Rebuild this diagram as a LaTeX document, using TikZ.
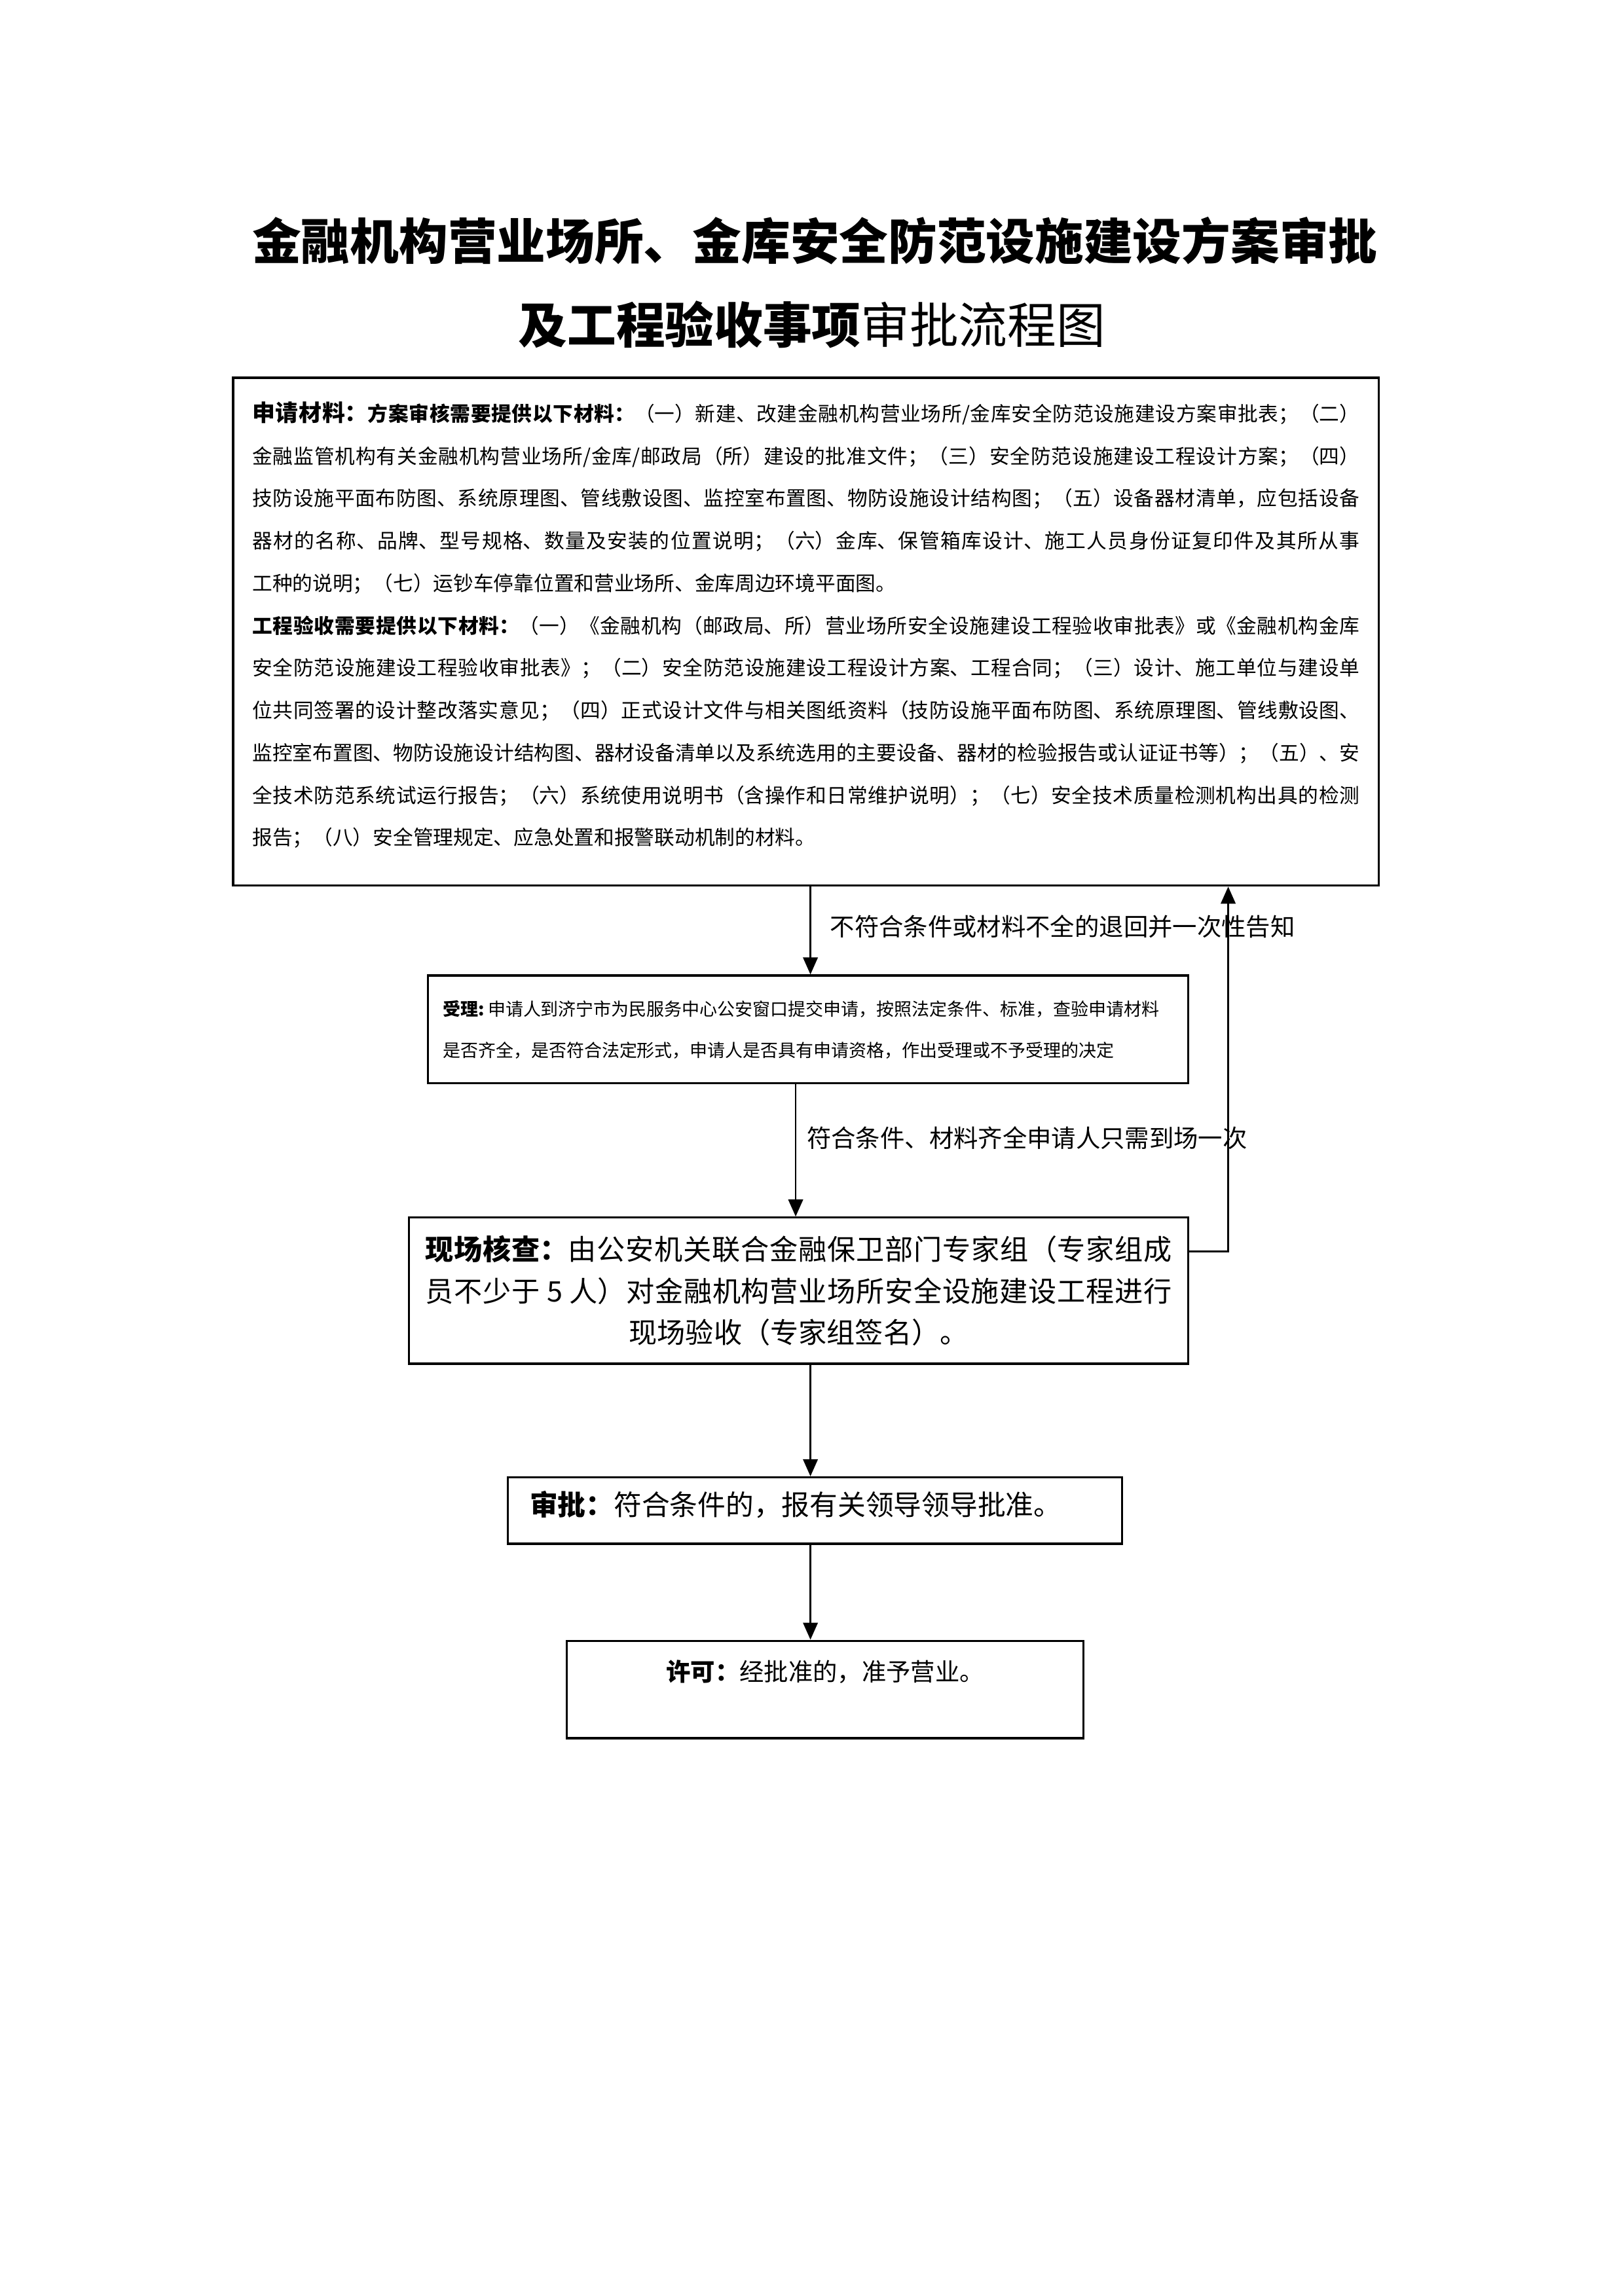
\documentclass[tikz,border=0pt]{standalone}
\usepackage{fontspec}
\setmainfont{Noto Sans CJK SC}
\usetikzlibrary{arrows.meta,calc}
\XeTeXlinebreaklocale "zh"
\XeTeXlinebreakskip=0pt plus 1pt
\setlength\parindent{0pt}
\setlength\parskip{0pt}

\begin{document}
\begin{tikzpicture}[x=0.019091cm,y=-0.019091cm,
  box/.style={draw,line width=0.8pt,inner sep=0pt},
  arr/.style={line width=0.6pt,-{Triangle[length=2.2mm,width=1.9mm]}},
  lab/.style={font=\fontsize{9pt}{11pt}\selectfont,inner sep=0pt,anchor=west}]

\useasboundingbox (0,0) rectangle (1100,1555.7);

% Title in two lines
\node[font=\bfseries\fontsize{18pt}{22pt}\selectfont] (title1) at (552,163) {金融机构营业场所、金库安全防范设施建设方案审批};
\node[font=\fontsize{18pt}{22pt}\selectfont] (title2) at (550,220) {\textbf{及工程验收事项}审批流程图};

% Materials to hand in
\node[box,minimum width=14.814cm,minimum height=6.567cm,text width=14.318cm,align=justify,
  font=\fontsize{7.4pt}{15.6pt}\selectfont] (apply) at (546,428) {%
{\bfseries\fontsize{8.4pt}{15.6pt}\selectfont 申请材料：}\textbf{方案审核需要提供以下材料：}（一）新建、改建金融机构营业场所/金库安全防范设施建设方案审批表；（二）\linebreak
金融监管机构有关金融机构营业场所/金库/邮政局（所）建设的批准文件；（三）安全防范设施建设工程设计方案；（四）\linebreak
技防设施平面布防图、系统原理图、管线敷设图、监控室布置图、物防设施设计结构图；（五）设备器材清单，应包括设备\linebreak
器材的名称、品牌、型号规格、数量及安装的位置说明；（六）金库、保管箱库设计、施工人员身份证复印件及其所从事\linebreak
工种的说明；（七）运钞车停靠位置和营业场所、金库周边环境平面图。\par
\textbf{工程验收需要提供以下材料：}（一）《金融机构（邮政局、所）营业场所安全设施建设工程验收审批表》或《金融机构金库\linebreak
安全防范设施建设工程验收审批表》；（二）安全防范设施建设工程设计方案、工程合同；（三）设计、施工单位与建设单\linebreak
位共同签署的设计整改落实意见；（四）正式设计文件与相关图纸资料（技防设施平面布防图、系统原理图、管线敷设图、\linebreak
监控室布置图、物防设施设计结构图、器材设备清单以及系统选用的主要设备、器材的检验报告或认证证书等）；（五）、安\linebreak
全技术防范系统试运行报告；（六）系统使用说明书（含操作和日常维护说明）；（七）安全技术质量检测机构出具的检测\linebreak
报告；（八）安全管理规定、应急处置和报警联动机制的材料。\par\kern0.172cm};

% Acceptance at the window
\node[box,minimum width=9.832cm,minimum height=1.394cm,text width=9.45cm,align=left,
  font=\fontsize{6.5pt}{15.2pt}\selectfont] (accept) at (547.5,697.5) {%
\textbf{受理:}\hspace{0.2em}申请人到济宁市为民服务中心公安窗口提交申请，按照法定条件、标准，查验申请材料\\
是否齐全，是否符合法定形式，申请人是否具有申请资格，作出受理或不予受理的决定};

% On-site check
\node[box,minimum width=10.08cm,minimum height=1.89cm,text width=9.65cm,align=justify,
  font=\fontsize{10.4pt}{15.4pt}\selectfont] (inspect) at (541,874.5) {%
{\parfillskip=0pt \textbf{现场核查：}由公安机关联合金融保卫部门专家组（专家组成\linebreak
员不少于 5 人）对金融机构营业场所安全设施建设工程进行\par}
{\centering 现场验收（专家组签名）。\par}};

% Approval and permit
\node[box,minimum width=7.942cm,minimum height=0.859cm,text width=7.37cm,align=left,text depth=0.2cm,
  font=\fontsize{10.3pt}{12pt}\selectfont] (approve) at (552,1023.5) {\textbf{审批：}符合条件的，报有关领导领导批准。};
\node[box,anchor=north,minimum width=6.682cm,text height=0.52cm,text depth=0.74cm,
  font=\fontsize{9pt}{11pt}\selectfont] (permit) at (559,1111) {\textbf{许可：}经批准的，准予营业。};

% Arrows between the steps
\coordinate (mid) at (549,0);
\draw[arr] (mid |- apply.south) -- node[lab,xshift=0.245cm,yshift=0.05cm] {不符合条件或材料不全的退回并一次性告知} (mid |- accept.north);
\coordinate (a2) at (539,0);
\draw[arr] (a2 |- accept.south) -- node[lab,xshift=0.135cm,yshift=0.165cm] {符合条件、材料齐全申请人只需到场一次} (a2 |- inspect.north);
\draw[arr] (mid |- inspect.south) -- (mid |- approve.north);
\draw[arr] (mid |- approve.south) -- (mid |- permit.north);

% Way back when the papers are not complete
\coordinate (backY) at (0,848);
\coordinate (backX) at (832,0);
\draw[arr] (inspect.east |- backY) -| (backX |- apply.south);
\end{tikzpicture}
\end{document}
